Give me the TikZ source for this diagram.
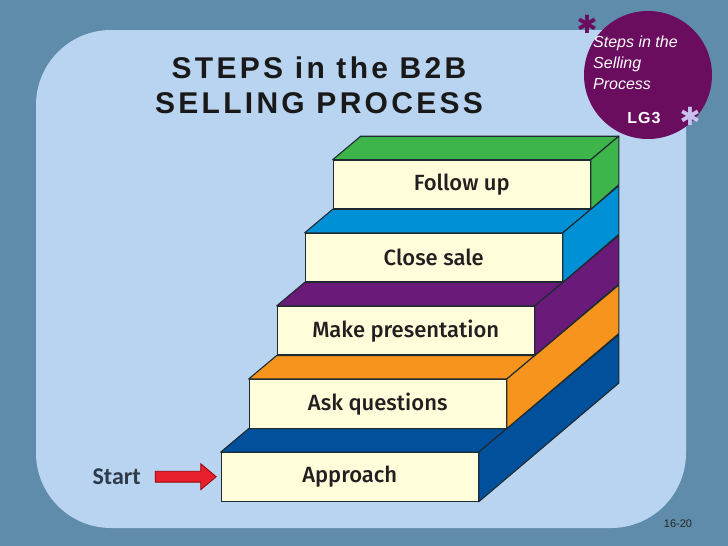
\documentclass[tikz,border=0pt]{standalone}
\usepackage{fontspec}
\setmainfont{Liberation Sans}
\newfontfamily\titlefont{Liberation Sans}[LetterSpace=11]
\newfontfamily\lgfont{Liberation Sans}[LetterSpace=6]
\newfontfamily\stepfont{Fira Sans Medium}
\newfontfamily\startfont{Carlito}
\newfontfamily\symfont{DejaVu Sans}
\usepackage{tikz}
\usetikzlibrary{calc,shapes.arrows}

\definecolor{bgdark}{HTML}{5F8CAA}
\definecolor{panel}{HTML}{B9D4F0}
\definecolor{plum}{HTML}{6A0D5F}
\definecolor{lilac}{HTML}{C8C0EE}
\definecolor{cream}{HTML}{FFFDDA}
\definecolor{edge}{HTML}{1E2A30}
\definecolor{ink}{HTML}{231F20}
\definecolor{startink}{HTML}{2E3A4A}
\definecolor{stepgreen}{HTML}{3DB54A}
\definecolor{stepcyan}{HTML}{0090D6}
\definecolor{steppurple}{HTML}{6A1B7A}
\definecolor{steporange}{HTML}{F7941D}
\definecolor{stepblue}{HTML}{00509B}
\definecolor{arrowred}{HTML}{E8202E}

\begin{document}
\begin{tikzpicture}[x=1pt,y=-1pt,
   stepface/.style={draw=edge,fill=cream,line width=1.1pt,anchor=south west,
               minimum width=257pt,minimum height=48.5pt,inner sep=0pt,
               font=\stepfont\fontsize{22}{26}\selectfont,text=ink},
   stepside/.style={draw=edge,line width=1.1pt,line join=round},
   redarrow/.style={single arrow,draw=red!60!black,fill=arrowred,line width=0.8pt,
               minimum height=61pt,inner sep=5pt,single arrow head extend=7.5pt,
               single arrow tip angle=80},
   starmark/.style={font=\symfont\fontsize{25}{25}\selectfont,inner sep=0pt}]
  \useasboundingbox (0,0) rectangle (728,546);
  \fill[bgdark] (0,0) rectangle (728,546);
  \fill[panel,rounded corners=75pt] (36,30) rectangle (686,528);

  % title
  \node[font=\titlefont\bfseries\fontsize{30}{35}\selectfont,align=center,text=black!90]
    (title) at (319,85) {STEPS in the B2B\\SELLING PROCESS};

  % learning goal badge
  \node[circle,fill=plum,minimum size=128pt,inner sep=0pt] (lg) at (648,75) {};
  \node[anchor=north west,align=left,text=white,inner sep=0pt,
        font=\itshape\fontsize{16}{21}\selectfont] (lgtext) at (593,36)
    {Steps in the\\Selling\\Process};
  \node[text=white,font=\lgfont\bfseries\fontsize{16}{16}\selectfont] (lgnum) at (644,118) {LG3};
  \node[starmark,text=plum] (star1) at (587,24) {✱};
  \node[starmark,text=lilac] (star2) at (690,116) {✱};

  % stairs
  \node[stepface] (appr) at (220.7,501.7) {Approach};
  \node[stepface] (ask) at ($(appr.north west)+(28,-23.5)$) {Ask questions};
  \node[stepface] (pres) at ($(ask.north west)+(28,-23.5)$) {Make presentation};
  \node[stepface] (close) at ($(pres.north west)+(28,-23.5)$) {Close sale};
  \node[stepface] (follow) at ($(close.north west)+(28,-23.5)$) {Follow up};
  \foreach \n/\c/\k in {appr/stepblue/0,ask/steporange/1,pres/steppurple/2,
                        close/stepcyan/3,follow/stepgreen/4} {
    \filldraw[stepside,fill=\c] (\n.north west) -- ++(28,-23.5)
      -- ($(\n.north east)+(28,-23.5)$) -- (\n.north east) -- cycle;
    \filldraw[stepside,fill=\c] (\n.north east) -- ++({(5-\k)*28},{-(5-\k)*23.5})
      -- ++(0,48.5) -- (\n.south east) -- cycle;
  }

  % start
  \node[font=\startfont\bfseries\fontsize{24}{24}\selectfont,text=startink]
    (start) at (116.7,476.5) {Start};
  \path (start.east) -- (appr.west) node[midway,redarrow] (arr) {};

  \node[font=\fontsize{11}{11}\selectfont,text=black!85] (page) at (678,524) {16-20};
\end{tikzpicture}
\end{document}
